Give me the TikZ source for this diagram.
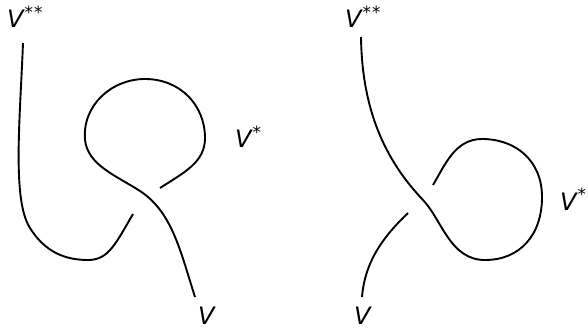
\documentclass[tikz,border=0pt]{standalone}
\usepackage{fontspec}
\setmainfont{DejaVu Sans}
\begin{document}
\begin{tikzpicture}[x=1pt,y=-1pt,
  strand/.style={line width=1.9pt,line cap=butt},
  lab/.style={inner sep=0pt,anchor=base west,font=\fontsize{24}{28}\selectfont\itshape}]
\useasboundingbox (0,0) rectangle (588,331);
% labels
\node[lab] (lvss) at (7,28) {V\kern1pt\textsuperscript{\upshape *\kern1pt*}};
\node[lab] (lvs) at (235,148) {V\kern1pt\textsuperscript{\upshape *}};
\node[lab] (lv) at (198,324) {V};
\node[lab] (rvss) at (345,28) {V\kern1pt\textsuperscript{\upshape *\kern1pt*}};
\node[lab] (rvs) at (560,210) {V\kern1pt\textsuperscript{\upshape *}};
\node[lab] (rv) at (354,324) {V};
% left diagram
\coordinate (la) at (23,43);
\coordinate (lb) at (133,214);
\coordinate (lc) at (195,297);
\coordinate (ld) at (160,188);
\draw[strand] (la) .. controls (20,120) and (12,200) .. (30,228)
  .. controls (45,252) and (65,260) .. (88,260)
  .. controls (108,260) and (115,245) .. (lb);
\draw[strand] (lc) .. controls (180,250) and (172,212) .. (140,191)
  .. controls (115,175) and (88,165) .. (85,140)
  .. controls (82,105) and (112,79) .. (145,79)
  .. controls (180,79) and (205,105) .. (205,138)
  .. controls (205,162) and (185,172) .. (ld);
% right diagram
\coordinate (ra) at (361,37);
\coordinate (rb) at (433,185);
\coordinate (rc) at (408,213);
\coordinate (rd) at (362,297);
\draw[strand] (ra) .. controls (362,110) and (385,160) .. (423,200)
  .. controls (442,220) and (450,260) .. (485,260)
  .. controls (520,260) and (542,235) .. (542,197)
  .. controls (542,160) and (515,139) .. (482,139)
  .. controls (455,139) and (445,165) .. (rb);
\draw[strand] (rc) .. controls (385,235) and (365,260) .. (rd);
\end{tikzpicture}
\end{document}
